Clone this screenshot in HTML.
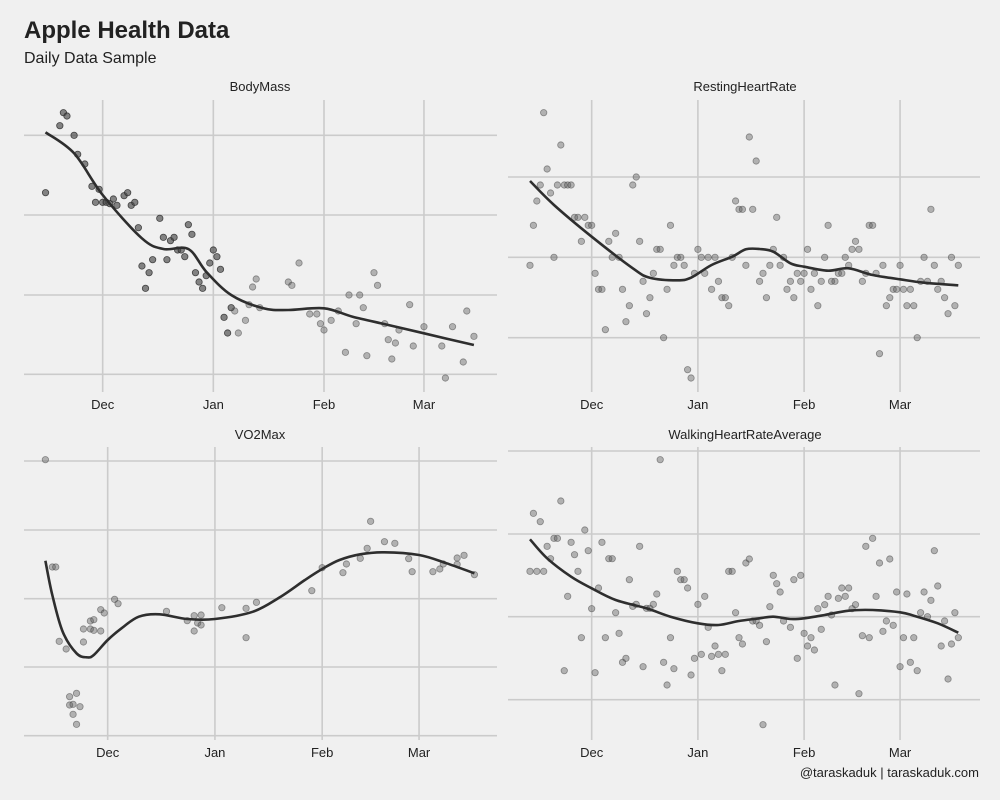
<!DOCTYPE html>
<html><head><meta charset="utf-8"><style>
body{margin:0;background:#f0f0f0;}
svg{display:block;font-family:"Liberation Sans",sans-serif;}
</style></head><body>
<svg id="chart" width="1000" height="800">
<rect width="1000" height="800" fill="#f0f0f0"/>
<text x="24" y="38" font-size="24" font-weight="bold" fill="#222">Apple Health Data</text>
<text x="24" y="63" font-size="16" fill="#222">Daily Data Sample</text>
<text x="979" y="777" font-size="13" fill="#222" text-anchor="end">@taraskaduk | taraskaduk.com</text>
</svg>
<script>
// ---- data (day = days since Dec 1) ----
const monthLabels = ["Dec","Jan","Feb","Mar"];
const monthDays = [0,31,62,90];

const bmDays = [-16,-12,-11,-10,-8,-7,-5,-3,-1,-2,0,1,2,3,4,6,7,8,9,10,11,12,13,14,16,17,18,19,20,21,22,23,24,25,26,27,28,29,30,31,32,33,34,35,36,37,38,40,41,42,43,44,52,53,55,58,60,61,62,64,66,68,69,71,72,73,74,76,77,79,80,81,82,83,86,87,90,95,96,98,101,102,104];
const bmVals = [60.7,80.8,84.7,83.7,77.9,72.2,69.3,62.6,61.7,57.8,57.8,57.8,57.4,58.8,56.9,59.8,60.7,56.9,57.8,50.2,38.7,32,36.7,40.6,53,47.3,40.6,46.3,47.3,43.5,43.5,41.5,51.1,48.2,36.7,33.9,32,35.8,39.6,43.5,41.5,37.7,23.3,18.6,26.2,25.2,18.6,22.4,27.1,32.4,34.8,26.2,33.9,32.9,39.6,24.3,24.3,21.4,19.5,22.4,25.2,12.8,30,21.4,30,26.2,11.8,36.7,32.9,21.4,16.6,10.8,15.6,19.5,27.1,14.7,20.5,14.7,5.1,20.5,9.9,25.2,17.6];
const bmTrendDays = [-16,-8,0,11,17,24,29,36,45,52,62,70,80,90,104];
const bmTrendVals = [78.8,72.5,60,47,43.8,43.8,37,30,26,25.5,26,23.5,21,18.5,15];
const bmGrid = [6.2,30,54,77.9];

const rhrDays = [-18,-17,-16,-15,-14,-13,-12,-11,-10,-9,-8,-7,-6,-5,-4,-3,-2,-1,0,1,2,3,4,5,6,7,8,9,10,11,12,13,14,15,16,17,18,19,20,21,22,23,24,25,26,27,28,29,30,31,32,33,34,35,36,37,38,39,40,41,42,43,44,45,46,47,48,49,50,51,52,53,54,55,56,57,58,59,60,61,62,63,64,65,66,67,68,69,70,71,72,73,74,75,76,77,78,79,80,81,82,83,84,85,86,87,88,89,90,91,92,93,94,95,96,97,98,99,100,101,102,103,104,105,106,107];
const rhrVals = [38.9,50.9,58.2,63,84.7,67.8,60.6,41.3,63,75,63,63,63,53.3,53.3,46.1,53.3,50.9,50.9,36.5,31.7,31.7,19.6,46.1,41.3,48.5,41.3,31.7,22,26.8,63,65.4,46.1,34.1,24.4,29.2,36.5,43.7,43.7,17.2,31.7,50.9,38.9,41.3,41.3,38.9,7.6,5.1,36.5,43.7,41.3,36.5,41.3,31.7,41.3,34.1,29.2,29.2,26.8,41.3,58.2,55.7,55.7,38.9,77.4,55.7,70.2,34.1,36.5,29.2,38.9,43.7,53.3,38.9,41.3,31.7,34.1,29.2,36.5,34.1,36.5,43.7,31.7,36.5,26.8,34.1,41.3,50.9,34.1,34.1,36.5,36.5,41.3,38.9,43.7,46.1,43.7,34.1,36.5,50.9,50.9,36.5,12.4,38.9,26.8,29.2,31.7,31.7,38.9,31.7,26.8,31.7,26.8,17.2,34.1,41.3,34.1,55.7,38.9,31.7,34.1,29.2,24.4,41.3,26.8,38.9];
const rhrTrendDays = [-18,-11,0,12,17,25,29,35,41,45,49,53,58,62,69,75,82,90,97,107];
const rhrTrendVals = [64.2,57,47.5,38,35.2,34.4,35.2,39,41.5,43.7,43.8,43,39.5,38.5,37.3,38,36,34.7,33.7,32.9];
const rhrGrid = [17.2,41.3,65.4];

const vo2Days = [-18,-16,-15,-14,-12,-11,-11,-10,-10,-9,-9,-8,-7,-7,-5,-5,-4,-4,-2,-2,-1,2,3,17,23,25,25,26,27,27,33,40,40,43,59,62,68,69,73,75,76,80,83,87,88,94,96,97,101,101,103,106];
const vo2Vals = [85.6,53.4,53.4,31.1,28.8,14.5,12,12.2,9.2,15.5,6.2,11.5,34.8,30.9,37.2,34.8,37.6,34.4,40.6,34.2,39.6,43.7,42.4,40.1,37.3,38.8,34.2,36.6,39,36,41.2,41,32.2,42.8,46.3,53.2,51.7,54.3,56,59,67.1,61,60.5,55.9,52,52,52.8,54.3,56.1,54.2,56.9,51.1];
const vo2TrendDays = [-18,-16,-13,-9,-6,-4,0,4,9,15,23,31,42,50,57,62,67,73,80,90,98,106];
const vo2TrendVals = [55.3,45,34,27.5,26.3,27,31.5,35,38.5,39.2,37.8,37.8,40,44.5,49.5,52.8,55.5,57.2,57.8,57,54.5,51.5];
const vo2Grid = [2.8,23.4,43.9,64.5,85.2];

const whrDays = [-18,-17,-16,-15,-14,-13,-12,-11,-10,-9,-8,-7,-6,-5,-4,-3,-2,-1,0,1,2,3,4,5,6,7,8,9,10,11,12,13,14,15,16,17,18,19,20,21,22,23,24,25,26,27,28,29,30,31,32,33,34,35,36,37,38,39,40,41,42,43,44,45,46,47,48,49,50,51,52,53,54,55,56,58,59,60,61,62,63,64,65,66,67,68,69,70,71,72,73,74,75,76,77,78,79,80,81,82,83,84,85,86,87,88,89,90,91,92,93,94,95,96,97,98,99,100,101,102,103,104,105,106,107];
const whrVals = [52.1,69.5,52.1,67,52.1,59.6,55.9,62,62,73.2,22.3,44.6,60.8,57.1,52.1,32.2,64.5,58.3,40.9,21.7,47.1,60.8,32.2,55.9,55.9,39.7,33.5,24.8,26,49.6,41.6,42.2,59.6,23.5,41,41,42.2,45.3,85.6,24.8,18,32.2,22.9,52.1,49.6,49.6,47.1,21,26,42.2,27.2,44.6,35.3,26.6,29.7,27.2,22.3,27.2,52.1,52.1,39.7,32.2,30.3,54.6,55.8,37.2,37.2,35.9,6.1,31,41.5,50.9,48.4,45.9,37.2,35.3,49.6,26,50.9,33.5,29.7,32.2,28.5,40.9,34.7,42.1,44.6,39,18,44,47.1,44.6,47.1,40.9,42.1,15.4,32.8,59.6,32.2,62,44.6,54.6,34.1,37.2,55.8,35.9,45.9,23.5,32.2,45.3,24.8,32.2,22.3,39.7,45.9,38.5,43.4,58.3,47.7,29.7,37.2,19.8,30.3,39.7,32.2];
const whrTrendDays = [-18,-13,-6,0,7,16,23,31,37,43,49,53,58,62,68,75,82,90,94,101,107];
const whrTrendVals = [61.7,56,50.5,47,43.5,41,38.5,36.5,36,37.2,38,38.5,37.8,38,39,40.3,40.5,39.8,38.8,36.5,33.7];
const whrGrid = [13.6,38.5,63.3,88.2];

// ---- layout ----
const NS = "http://www.w3.org/2000/svg";
const svg = document.getElementById("chart");
function mk(tag, attrs, parent){
  const e = document.createElementNS(NS, tag);
  for (const k in attrs) e.setAttribute(k, attrs[k]);
  (parent||svg).appendChild(e);
  return e;
}
const panels = [
  {key:"body-mass", title:"BodyMass", ox:20, oy:95, x0:248, pxDay:10.71, gx1:24, gx2:497, gy1:100, gy2:392, titleX:260, titleY:91, tickY:409,
   days:bmDays, vals:bmVals, tD:bmTrendDays, tV:bmTrendVals, grid:bmGrid, darkBefore:37},
  {key:"resting-heart-rate", title:"RestingHeartRate", ox:505, oy:95, x0:260, pxDay:10.28, gx1:508, gx2:980, gy1:100, gy2:392, titleX:745, titleY:91, tickY:409,
   days:rhrDays, vals:rhrVals, tD:rhrTrendDays, tV:rhrTrendVals, grid:rhrGrid, darkBefore:-999},
  {key:"vo2max", title:"VO2Max", ox:20, oy:445, x0:263, pxDay:10.38, gx1:24, gx2:497, gy1:447, gy2:740, titleX:260, titleY:439, tickY:757,
   days:vo2Days, vals:vo2Vals, tD:vo2TrendDays, tV:vo2TrendVals, grid:vo2Grid, darkBefore:-999},
  {key:"walking-heart-rate", title:"WalkingHeartRateAverage", ox:505, oy:445, x0:260, pxDay:10.28, gx1:508, gx2:980, gy1:447, gy2:740, titleX:745, titleY:439, tickY:757,
   days:whrDays, vals:whrVals, tD:whrTrendDays, tV:whrTrendVals, grid:whrGrid, darkBefore:-999}
];
function catmull(pts){
  let d = "M" + pts[0][0].toFixed(1) + "," + pts[0][1].toFixed(1);
  for (let i=0;i<pts.length-1;i++){
    const p0 = pts[i-1]||pts[i], p1 = pts[i], p2 = pts[i+1], p3 = pts[i+2]||p2;
    const c1 = [p1[0]+(p2[0]-p0[0])/6, p1[1]+(p2[1]-p0[1])/6];
    const c2 = [p2[0]-(p3[0]-p1[0])/6, p2[1]-(p3[1]-p1[1])/6];
    d += "C"+c1[0].toFixed(1)+","+c1[1].toFixed(1)+" "+c2[0].toFixed(1)+","+c2[1].toFixed(1)+" "+p2[0].toFixed(1)+","+p2[1].toFixed(1);
  }
  return d;
}
panels.forEach(p=>{
  const xs = d => p.ox + (p.x0 + p.pxDay*d)/3;
  const ys = v => p.oy + (900 - 10*v)/3;
  const g = mk("g", {});
  
  
  const t = mk("text", {x:p.titleX, y:p.titleY, "font-size":13, fill:"#222", "text-anchor":"middle"}, g);
  t.textContent = p.title;
  
  
  p.grid.forEach(v=>{
    const l = mk("line", {x1:p.gx1, x2:p.gx2, y1:ys(v), y2:ys(v), stroke:"#cbcbcb", "stroke-width":1.6}, g);
    
    
  });
  monthDays.forEach((d,i)=>{
    const l = mk("line", {x1:xs(d), x2:xs(d), y1:p.gy1, y2:p.gy2, stroke:"#cbcbcb", "stroke-width":1.6}, g);
    
    
    const tl = mk("text", {x:xs(d), y:p.tickY, "font-size":13, fill:"#222", "text-anchor":"middle"}, g);
    tl.textContent = monthLabels[i];
    
    
  });
  p.days.forEach((d,i)=>{
    const dark = d < p.darkBefore;
    const c = mk("circle", {cx:xs(d), cy:ys(p.vals[i]), r:3.2,
      fill: dark ? "rgba(70,70,70,0.65)" : "rgba(90,90,90,0.42)",
      stroke: dark ? "rgba(40,40,40,0.8)" : "rgba(60,60,60,0.5)", "stroke-width":0.8}, g);
    
    
  });
  const pts = p.tD.map((d,i)=>[xs(d), ys(p.tV[i])]);
  const path = mk("path", {d:catmull(pts), fill:"none", stroke:"#2e2e2e", "stroke-width":2.6}, g);
  
  
});
</script>
</body></html>
